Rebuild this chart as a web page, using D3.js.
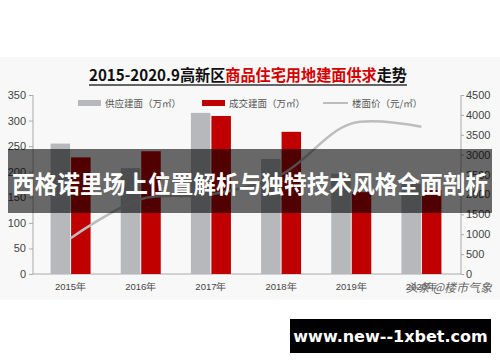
<!DOCTYPE html>
<html><head><meta charset="utf-8">
<script src="https://cdn.jsdelivr.net/npm/d3@7"></script>
<style>
html,body{margin:0;padding:0;background:#fff;}
svg{display:block;font-family:"Noto Sans CJK SC","Noto Sans",sans-serif;}
</style></head>
<body>
<svg id="c" width="500" height="362"></svg>
<script>
const years = ["2015年","2016年","2017年","2018年","2019年","2020年"];
const supply = [255, 207, 315, 225, 196, 176];
const deal = [228, 240, 309, 278, 160, 164];
const price = [900, 1880, 2000, 2500, 3780, 3700];
const leftTicks = [0,50,100,150,200,250,300,350];
const rightTicks = [0,500,1000,1500,2000,2500,3000,3500,4000,4500];
const titleParts = [["2015-2020.9高新区","#111"],["商品住宅用地建面供求","#d40000"],["走势","#111"]];
const legendItems = [["供应建面（万㎡）","bar","#b6b8bc"],["成交建面（万㎡）","bar","#c00000"],["楼面价（元/㎡）","line","#bdbdbd"]];
const bannerText = "西格诺里场上位置解析与独特技术风格全面剖析";
const watermark = "头条 @楼市气象";
const footerText = "www.new--1xbet.com";

const svg = d3.select("#c");
svg.append("rect").attr("x",0).attr("y",57).attr("width",500).attr("height",243).attr("fill","#f8f8f8");

const x = d3.scaleBand().domain(years).range([35.5,456.5]).padding(0);
const yL = d3.scaleLinear().domain([0,350]).range([274,95]);
const yR = d3.scaleLinear().domain([0,4500]).range([274,95]);
const bw = 19.5;

// title
const t = svg.append("text").attr("x",248).attr("y",81).attr("text-anchor","middle")
  .attr("font-size",16).attr("font-weight","bold").attr("textLength",318).attr("lengthAdjust","spacingAndGlyphs");
titleParts.forEach(p=>t.append("tspan").attr("fill",p[1]).text(p[0]));
svg.append("line").attr("x1",89).attr("x2",407).attr("y1",85).attr("y2",85).attr("stroke","#333").attr("stroke-width",1.3);

// legend
const lgX = [78,202,323];
legendItems.forEach((d,i)=>{
  const g = svg.append("g").attr("transform",`translate(${lgX[i]},103)`);
  if(d[1]==="bar") g.append("rect").attr("x",0).attr("y",-3).attr("width",23).attr("height",6).attr("fill",d[2]);
  else g.append("line").attr("x1",0).attr("x2",25).attr("y1",0).attr("y2",0).attr("stroke",d[2]).attr("stroke-width",2);
  g.append("text").attr("x",d[1]==="bar"?27:29).attr("y",3.5).attr("font-size",9.5).attr("fill","#555").text(d[0]);
});

// axes
const axL = svg.append("g").attr("transform","translate(33,0)")
  .call(d3.axisLeft(yL).tickValues(leftTicks).tickSize(4).tickPadding(3).tickFormat(d3.format("d")));
const axR = svg.append("g").attr("transform","translate(461,0)")
  .call(d3.axisRight(yR).tickValues(rightTicks).tickSize(3).tickPadding(2).tickFormat(d3.format("d")));
[axL,axR].forEach(a=>{
  a.selectAll("path,line").attr("stroke","#aaa");
  a.selectAll("text").attr("fill","#444").attr("font-size",11).attr("font-family","Liberation Sans, Arial, sans-serif");
});
axL.select(".domain").attr("d","M0,274V95");
axR.select(".domain").attr("d","M0,274V95");
const axB = svg.append("g").attr("transform","translate(0,274)")
  .call(d3.axisBottom(x).tickSize(0).tickPadding(9));
axB.select(".domain").attr("d","M33,0H461").attr("stroke","#aaa");
axB.selectAll("text").attr("fill","#444").attr("font-size",9.5);

// bars
svg.append("g").selectAll("rect").data(supply).join("rect")
  .attr("x",(d,i)=>x(years[i])+x.bandwidth()/2-bw-0.5).attr("width",bw)
  .attr("y",d=>yL(d)).attr("height",d=>yL(0)-yL(d)).attr("fill","#b6b8bc");
svg.append("g").selectAll("rect").data(deal).join("rect")
  .attr("x",(d,i)=>x(years[i])+x.bandwidth()/2+0.5).attr("width",bw)
  .attr("y",d=>yL(d)).attr("height",d=>yL(0)-yL(d)).attr("fill","#c00000");

// line
const line = d3.line().x((d,i)=>x(years[i])+x.bandwidth()/2).y(d=>yR(d)).curve(d3.curveCatmullRom.alpha(0.5));
svg.append("path").datum(price).attr("d",line).attr("fill","none").attr("stroke","#bdbdbd").attr("stroke-width",2.5);

// watermark
svg.append("text").attr("x",492).attr("y",292).attr("text-anchor","end").attr("font-size",12)
  .attr("fill","#666").attr("font-style","italic").text(watermark);

// banner overlay
svg.append("rect").attr("x",8).attr("y",149).attr("width",484).attr("height",64).attr("fill","#000").attr("opacity",0.58);
svg.append("text").attr("x",250).attr("y",193).attr("text-anchor","middle").attr("font-size",24)
  .attr("font-weight","bold").attr("fill","#fff").attr("textLength",476).attr("lengthAdjust","spacingAndGlyphs").text(bannerText);

// footer box
svg.append("rect").attr("x",290).attr("y",319).attr("width",201).attr("height",34).attr("fill","#000");
svg.append("text").attr("x",390.5).attr("y",342).attr("text-anchor","middle").attr("font-size",16)
  .attr("font-weight","bold").attr("fill","#fff").attr("font-family","DejaVu Sans, sans-serif").text(footerText);
</script>
</body></html>
